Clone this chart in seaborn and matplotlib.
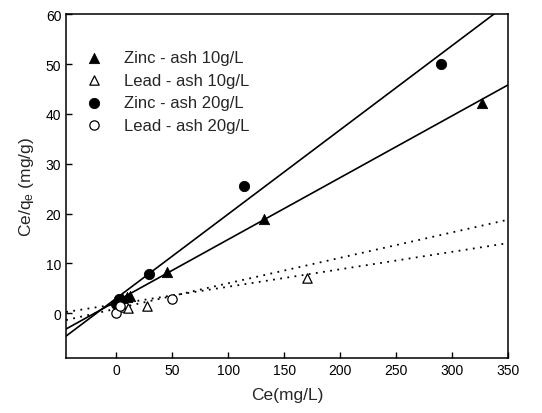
import numpy as np
import matplotlib
matplotlib.use("Agg")
import matplotlib.pyplot as plt
import seaborn as sns

# Data (Ce in mg/L, Ce/qe in mg/g)
zinc10_x = [2, 5, 9, 12, 45, 132, 327]
zinc10_y = [2.2, 3.0, 3.3, 3.4, 8.2, 18.9, 42.2]
lead10_x = [5, 10, 27, 170]
lead10_y = [1.2, 1.1, 1.5, 7.0]
zinc20_x = [0, 2, 29, 114, 290]
zinc20_y = [1.8, 2.8, 7.9, 25.5, 50.0]
lead20_x = [0, 3, 50]
lead20_y = [0.0, 1.5, 2.8]

# linear fits (slope, intercept)
zinc10_fit = (0.124, 2.4)
lead10_fit = (0.035, 1.8)
zinc20_fit = (0.169, 3.0)
lead20_fit = (0.051, 0.9)

x_lim = (-45, 350)
y_lim = (-9, 60)

sns.set_style("white")
plt.rcParams['font.family'] = ['Liberation Sans', 'DejaVu Sans']
plt.rcParams['mathtext.fontset'] = 'custom'
plt.rcParams['mathtext.rm'] = 'Liberation Sans'
plt.rcParams['mathtext.it'] = 'Liberation Sans'

fig = plt.figure(figsize=(5.42, 4.14), dpi=100)
ax = fig.add_axes([0.122, 0.133, 0.815, 0.830])

# fit lines
x_line = np.array(x_lim, dtype=float)
for m, b in [zinc20_fit, zinc10_fit]:
    sns.lineplot(x=x_line, y=m * x_line + b, color='black', lw=1.2, ax=ax)
for m, b in [lead20_fit, lead10_fit]:
    sns.lineplot(x=x_line, y=m * x_line + b, color='black', lw=1.3,
                 ax=ax).lines[-1].set_linestyle((0, (1, 3)))

# points
sns.scatterplot(x=zinc10_x, y=zinc10_y, marker='^', s=55, color='black',
                edgecolor='black', label='Zinc - ash 10g/L', ax=ax, zorder=5)
sns.scatterplot(x=lead10_x, y=lead10_y, marker='^', s=45, facecolor='white',
                edgecolor='black', linewidth=0.9, label='Lead - ash 10g/L', ax=ax, zorder=5)
sns.scatterplot(x=zinc20_x, y=zinc20_y, marker='o', s=55, color='black',
                edgecolor='black', label='Zinc - ash 20g/L', ax=ax, zorder=5)
sns.scatterplot(x=lead20_x, y=lead20_y, marker='o', s=45, facecolor='white',
                edgecolor='black', linewidth=0.9, label='Lead - ash 20g/L', ax=ax, zorder=5)

ax.set_xlim(*x_lim)
ax.set_ylim(*y_lim)
ax.set_xticks(np.arange(0, 351, 50))
ax.set_yticks(np.arange(0, 61, 10))
ax.tick_params(direction='in', length=4, width=1, labelsize=10, colors='black',
               left=True, bottom=True)
for s in ax.spines.values():
    s.set_color('black')
    s.set_linewidth(1.1)

ax.set_xlabel('Ce(mg/L)', fontsize=12.5, labelpad=7)
ax.set_ylabel(r'Ce/q$_\mathregular{e}$ (mg/g)', fontsize=12.5, labelpad=7)

handles, labels = ax.get_legend_handles_labels()
ax.legend(handles, labels, loc='upper left', bbox_to_anchor=(0.0, 0.93),
          frameon=False, fontsize=12, handletextpad=0.8, labelspacing=0.45,
          borderaxespad=0.3)

fig.savefig('out.png', dpi=100)
